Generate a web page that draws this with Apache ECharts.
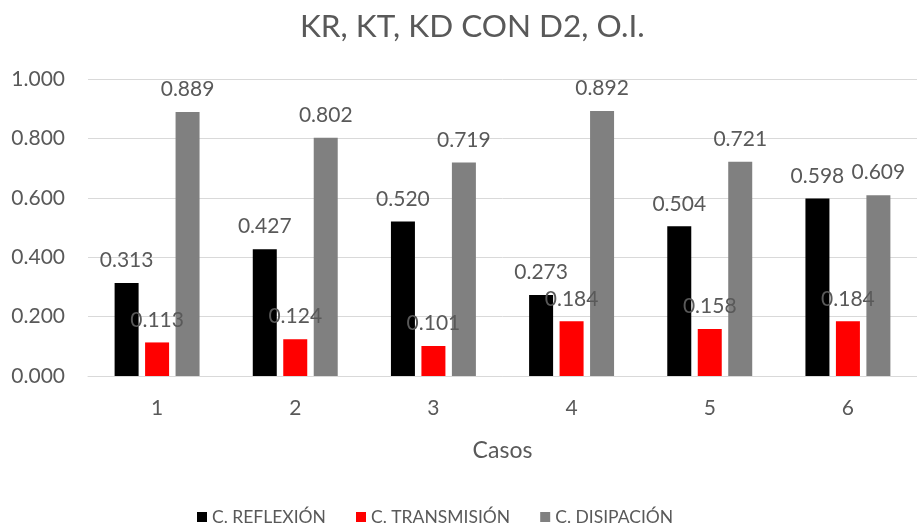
<!DOCTYPE html>
<html><head><meta charset="utf-8">
<script src="https://cdn.jsdelivr.net/npm/echarts@6/dist/echarts.min.js"></script>
<style>html,body{margin:0;padding:0;background:#fff}#c{width:917px;height:530px}</style>
</head><body><div id="c"></div>
<script>
const categories = ['1','2','3','4','5','6'];
const reflexion = [0.313, 0.427, 0.520, 0.273, 0.504, 0.598];
const transmision = [0.113, 0.124, 0.101, 0.184, 0.158, 0.184];
const disipacion = [0.889, 0.802, 0.719, 0.892, 0.721, 0.609];
const yTicks = [0, 0.2, 0.4, 0.6, 0.8, 1.0];

const FONT = 'Lato';
const TXT = '#595959';
const chart = echarts.init(document.getElementById('c'));
const lbl = {show:true, position:'top', distance:12, color:TXT, fontFamily:FONT, fontSize:21,
  formatter: p => p.value.toFixed(3)};
function s(name, data, color){
  return {name, type:'bar', data, barWidth:24, barGap:'27%', itemStyle:{color}, label:lbl};
}
chart.setOption({
  animation:false,
  title:{text:'KR, KT, KD CON D2, O.I.', left:295, top:6,
    textStyle:{color:TXT, fontFamily:FONT, fontSize:31.5, fontWeight:'normal'}},
  legend:{left:197, top:508, padding:0, itemWidth:10, itemHeight:10, itemGap:30, icon:'rect',
    textStyle:{color:TXT, fontFamily:FONT, fontSize:17.5}},
  grid:{left:88, top:79, width:836, height:297, containLabel:false},
  xAxis:{type:'category', data:categories, name:'Casos', nameLocation:'middle', nameGap:63,
    nameTextStyle:{color:TXT, fontFamily:FONT, fontSize:23},
    axisLine:{lineStyle:{color:'#d9d9d9'}}, axisTick:{show:false},
    axisLabel:{color:TXT, fontFamily:FONT, fontSize:21, margin:22}},
  yAxis:{type:'value', min:yTicks[0], max:yTicks[yTicks.length-1], interval:0.2,
    axisLine:{show:false}, axisTick:{show:false},
    splitLine:{lineStyle:{color:'#d9d9d9'}},
    axisLabel:{color:TXT, fontFamily:FONT, fontSize:21, margin:23, formatter:v=>v.toFixed(3)}},
  series:[s('C. REFLEXIÓN', reflexion, '#000000'), s('C. TRANSMISIÓN', transmision, '#ff0000'), s('C. DISIPACIÓN', disipacion, '#808080')]
});
</script></body></html>
